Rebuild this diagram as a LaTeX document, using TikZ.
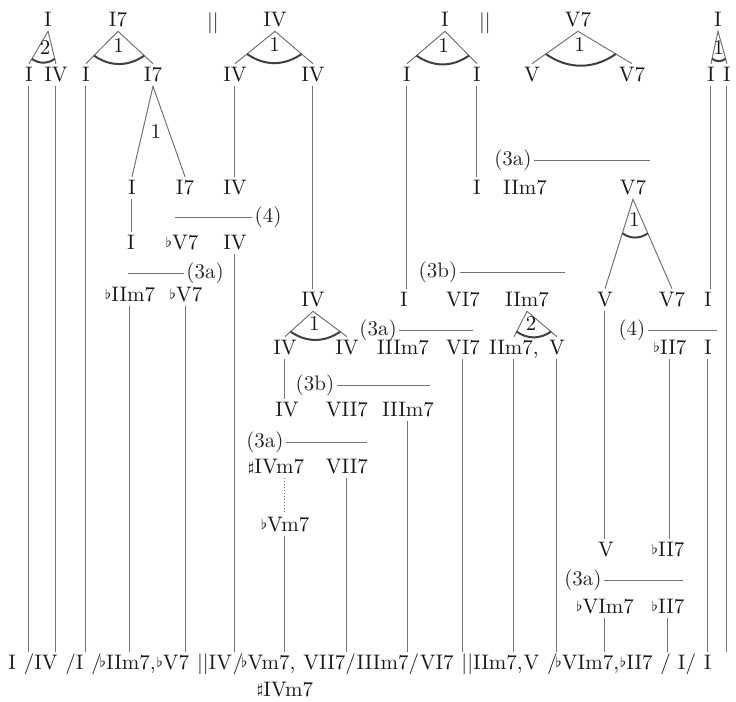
\documentclass[tikz,border=0pt]{standalone}
\usepackage{tikz}
\usetikzlibrary{positioning,calc}
\newcommand{\flt}{\raisebox{.3ex}{$\scriptstyle\flat$}}
\newcommand{\shp}{\raisebox{.3ex}{$\scriptstyle\sharp$}}
\begin{document}
\begin{tikzpicture}[x=0.5pt, y=-0.5pt,
    chd/.style={inner sep=2pt, text height=1.6ex, text depth=0pt, font=\fontsize{10.5}{12}\selectfont, text=black!90},
    num/.style={inner sep=0pt, font=\fontsize{10.5}{12}\selectfont, text=black!90},
    rul/.style={inner sep=1pt, font=\fontsize{10.5}{12}\selectfont, text=black!85},
    leaf/.style={chd, inner xsep=0pt, text depth=.5ex},
    ln/.style={draw=black!55, line width=.5pt},
    arcl/.style={draw=black!75, line width=1pt}]
  \useasboundingbox (0,0) rectangle (736,702);
  % top row
  \node[chd] (tIa)   at (48,20)  {I};
  \node[chd] (tIsev) at (118,20) {I7};
  \node[chd] (barA)  at (213,22) {||};
  \node[chd] (tIVa)  at (275,20) {IV};
  \node[chd] (tIb)   at (445,20) {I};
  \node[chd] (barB)  at (485,22) {||};
  \node[chd] (tVsev) at (578,20) {V7};
  \node[chd] (tIc)   at (718,20) {I};
  % first split
  \node[chd] (aI)    at (29,75)  {I};
  \node[chd] (aIV)   at (56,75)  {IV};
  \node[chd] (aIb)   at (86,75)  {I};
  \node[chd] (aIsev) at (153,75) {I7};
  \node[chd] (aIVl)  at (235,75) {IV};
  \node[chd] (aIVr)  at (313,75) {IV};
  \node[chd] (aIl)   at (407,75) {I};
  \node[chd] (aIr)   at (477,75) {I};
  \node[chd] (aV)    at (532,75) {V};
  \node[chd] (aVsev) at (632,75) {V7};
  \node[chd] (aIx)   at (711,75) {I};
  \node[chd] (aIy)   at (727,75) {I};
  % middle levels
  \node[chd] (bI)    at (132,188) {I};
  \node[chd] (bIsev) at (185,188) {I7};
  \node[chd] (bIV)   at (235,188) {IV};
  \node[chd] (cI)    at (477,188) {I};
  \node[chd] (cIIm)  at (525,188) {IIm7};
  \node[chd] (cVsev) at (633,188) {V7};
  \node[chd] (dI)     at (131,243) {I};
  \node[chd] (dbVsev) at (182,243) {\flt V7};
  \node[chd] (dIV)    at (235,243) {IV};
  \node[chd] (ebIIm)  at (130,295) {\flt IIm7};
  \node[chd] (ebVsev) at (186,295) {\flt V7};
  \node[chd] (fIV)    at (313,300) {IV};
  \node[chd] (fI)     at (404,300) {I};
  \node[chd] (fVIsev) at (463,300) {VI7};
  \node[chd] (fIIm)   at (527,300) {IIm7};
  \node[chd] (fV)     at (605,300) {V};
  \node[chd] (fVsev)  at (672,300) {V7};
  \node[chd] (fIz)    at (708,300) {I};
  \node[chd] (gIVl)    at (285,348) {IV};
  \node[chd] (gIVr)    at (347,348) {IV};
  \node[chd] (gIIIm)   at (403,348) {IIIm7};
  \node[chd] (gVIsev)  at (463,348) {VI7};
  \node[chd] (gIIm)    at (514,348) {IIm7,};
  \node[chd] (gV)      at (557,348) {V};
  \node[chd] (gbIIsev) at (670,348) {\flt II7};
  \node[chd] (gI)      at (708,348) {I};
  \node[chd] (hIV)     at (287,410) {IV};
  \node[chd] (hVIIsev) at (347,410) {VII7};
  \node[chd] (hIIIm)   at (408,410) {IIIm7};
  \node[chd] (ishIVm)  at (276,467) {\shp IVm7};
  \node[chd] (iVIIsev) at (347,467) {VII7};
  \node[chd] (jbVm)    at (285,525) {\flt Vm7};
  \node[chd] (kV)      at (606,550) {V};
  \node[chd] (kbIIsev) at (668,550) {\flt II7};
  \node[chd] (lbVIm)   at (605,607) {\flt VIm7};
  \node[chd] (lbIIsev) at (668,607) {\flt II7};
  % the chord sequence
  \node[leaf, anchor=west] (zI) at (8,665) {I};
  \node[leaf, right=0pt of zI]      (zIV)     {~/IV};
  \node[leaf, right=0pt of zIV]     (zIb)     {~/I};
  \node[leaf, right=0pt of zIb]     (zbIIm)   {~/\kern-.1em\flt IIm7,};
  \node[leaf, right=0pt of zbIIm]   (zbVsev)  {\flt V7};
  \node[leaf, right=0pt of zbVsev]  (zIVb)    {~||IV};
  \node[leaf, right=0pt of zIVb]    (zbVm)    {/\kern-.1em\flt Vm7,};
  \node[leaf, right=0pt of zbVm]    (zVIIsev) {~VII7/};
  \node[leaf, right=0pt of zVIIsev] (zIIIm)   {IIIm7/};
  \node[leaf, right=0pt of zIIIm]   (zVIsev)  {VI7};
  \node[leaf, right=0pt of zVIsev]  (zIIm)    {~||IIm7,};
  \node[leaf, right=0pt of zIIm]    (zV)      {V};
  \node[leaf, right=0pt of zV]      (zbVIm)   {~/\kern-.1em\flt VIm7,};
  \node[leaf, right=0pt of zbVIm]   (zbIIsev) {\flt II7};
  \node[leaf, right=0pt of zbIIsev] (zIc)     {~/~I/};
  \node[leaf, right=0pt of zIc]     (zId)     {~I};
  \node[leaf, anchor=north] (zshIVm) at (zbVm.south -| jbVm) {\shp IVm7};
  % rules
  \node[rul] (rA) at (513,160) {(3a)};
  \node[rul] (rB) at (268,217) {(4)};
  \node[rul] (rC) at (205,273) {(3a)};
  \node[rul] (rD) at (438,272) {(3b)};
  \node[rul] (rE) at (378,330) {(3a)};
  \node[rul] (rF) at (632,330) {(4)};
  \node[rul] (rG) at (315,385) {(3b)};
  \node[rul] (rH) at (265,442) {(3a)};
  \node[rul] (rK) at (583,580) {(3a)};
  \draw[ln] (rA.east) -- (650,160);
  \draw[ln] (175,217) -- (rB.west);
  \draw[ln] (128,273) -- (rC.west);
  \draw[ln] (rD.east) -- (565,272);
  \draw[ln] (rE.east) -- (473,330);
  \draw[ln] (rF.east) -- (717,330);
  \draw[ln] (rG.east) -- (430,385);
  \draw[ln] (rH.east) -- (367,442);
  \draw[ln] (rK.east) -- (683,580);
  % triangles
  \foreach \p/\l/\r/\n/\f in {tIa/aI/aIV/2/.85, tIsev/aIb/aIsev/1/.75, tIVa/aIVl/aIVr/1/.7,
      tIb/aIl/aIr/1/.75, tVsev/aV/aVsev/1/.7, tIc/aIx/aIy/1/.85, cVsev/fV/fVsev/1/.38,
      fIV/gIVl/gIVr/1/.8, fIIm/gIIm/gV/2/.8}{
    \coordinate (m) at ($(\l.north)!.5!(\r.north)$);
    \draw[ln] (\l.north) -- (\p.south) -- (\r.north);
    \draw[arcl] ($(\p.south)!\f!(\l.north)$) to[bend right=35] ($(\p.south)!\f!(\r.north)$);
    \node[num] at ($(\p.south)!{.6*\f}!(m)$) {\n};
  }
  \draw[ln] (bI.north) -- (aIsev.south) -- (bIsev.north);
  \node[num] at ($(aIsev.south)!.5!($(bI.north)!.5!(bIsev.north)$)$) {1};
  % straight descents
  \foreach \a/\b in {aIVl/bIV, bI/dI, aIVr/fIV, aIl/fI, aIr/cI, aIx/fIz, gIVl/hIV, fV/kV, gbIIsev/kbIIsev}
    \draw[ln] (\a.south) -- (\a.south |- \b.north);
  \draw[ln, densely dotted] (ishIVm.south -| jbVm) -- (jbVm.north);
  \foreach \a/\b in {aI/zI, aIV/zIV, aIb/zIb, ebIIm/zbIIm, ebVsev/zbVsev, dIV/zIVb, jbVm/zbVm,
      iVIIsev/zVIIsev, hIIIm/zIIIm, gVIsev/zVIsev, gIIm/zIIm, gV/zV, lbVIm/zbVIm, lbIIsev/zbIIsev,
      gI/zIc, aIy/zId}
    \draw[ln] (\a.south) -- (\a.south |- \b.north);
\end{tikzpicture}
\end{document}
